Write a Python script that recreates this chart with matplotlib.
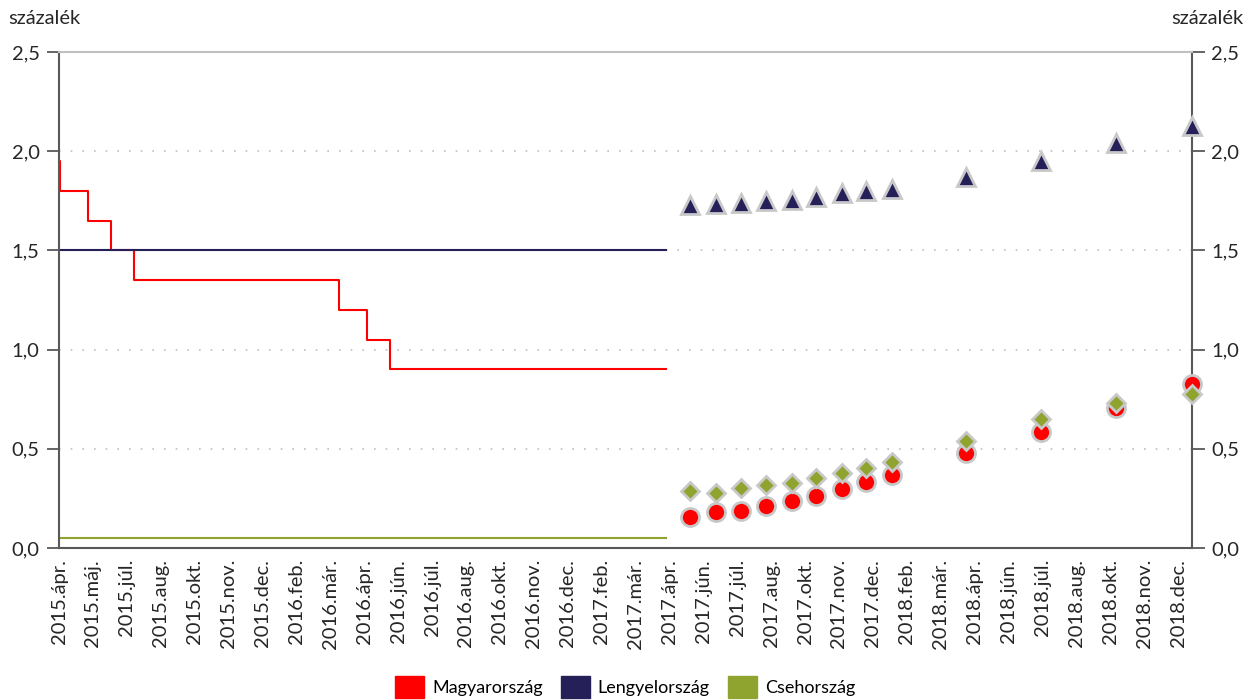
import numpy as np
import pandas as pd
import matplotlib
matplotlib.use('Agg')
import matplotlib.pyplot as plt
import matplotlib.dates as mdates
from matplotlib.patches import Rectangle

plt.rcParams['font.family'] = ['Lato', 'DejaVu Sans']

# havi címkék az x tengelyen
honapok = ['2015.ápr.', '2015.máj.', '2015.júl.', '2015.aug.', '2015.okt.', '2015.nov.',
           '2015.dec.', '2016.feb.', '2016.már.', '2016.ápr.', '2016.jún.', '2016.júl.',
           '2016.aug.', '2016.okt.', '2016.nov.', '2016.dec.', '2017.feb.', '2017.már.',
           '2017.ápr.', '2017.jún.', '2017.júl.', '2017.aug.', '2017.okt.', '2017.nov.',
           '2017.dec.', '2018.feb.', '2018.már.', '2018.ápr.', '2018.jún.', '2018.júl.',
           '2018.aug.', '2018.okt.', '2018.nov.', '2018.dec.']

# tényleges alapkamat (lépcsős)
hu_datum = ['2015-03-25', '2015-03-26', '2015-04-29', '2015-05-27', '2015-06-24',
            '2016-02-28', '2016-04-03', '2016-05-01', '2017-04-01']
hu_ertek = [1.95, 1.80, 1.65, 1.50, 1.35, 1.20, 1.05, 0.90, 0.90]
pl_datum = ['2015-03-25', '2017-04-01']
pl_ertek = [1.50, 1.50]
cz_datum = ['2015-03-25', '2017-04-01']
cz_ertek = [0.05, 0.05]

# várakozások
var_datum = ['2017-05-01', '2017-06-01', '2017-07-01', '2017-08-01', '2017-09-01',
             '2017-10-01', '2017-11-01', '2017-12-01', '2018-01-01', '2018-04-01',
             '2018-07-01', '2018-10-01', '2019-01-01']
hu_var = [0.155, 0.180, 0.188, 0.212, 0.238, 0.262, 0.297, 0.331, 0.368, 0.477, 0.586, 0.704, 0.827]
pl_var = [1.729, 1.735, 1.740, 1.747, 1.755, 1.767, 1.788, 1.800, 1.810, 1.870, 1.952, 2.040, 2.129]
cz_var = [0.286, 0.279, 0.301, 0.316, 0.329, 0.351, 0.380, 0.405, 0.433, 0.541, 0.650, 0.729, 0.776]

piros = '#ff0000'
kek = '#252158'
zold = '#8ea42e'
szegely = '#c8c8c8'
betu = 14.5

fig = plt.figure(figsize=(12.5, 7), dpi=100)
ax = fig.add_axes([59/1250, 1-548/700, (1192-59)/1250, (548-52)/700])

ax.step(pd.to_datetime(hu_datum), hu_ertek, where='post', color=piros, lw=1.5)
ax.plot(pd.to_datetime(pl_datum), pl_ertek, color=kek, lw=1.5)
ax.plot(pd.to_datetime(cz_datum), cz_ertek, color=zold, lw=1.5)

vd = pd.to_datetime(var_datum)
ax.plot(vd, pl_var, ls='none', marker='^', ms=13.5, color=kek, mec=szegely, mew=2, clip_on=False, zorder=4)
ax.plot(vd, hu_var, ls='none', marker='o', ms=13, color=piros, mec=szegely, mew=2, clip_on=False, zorder=4)
ax.plot(vd, cz_var, ls='none', marker='D', ms=9.5, color=zold, mec=szegely, mew=2, clip_on=False, zorder=5)

x0 = mdates.date2num(pd.Timestamp('2015-03-25'))
x1 = mdates.date2num(pd.Timestamp('2019-01-01'))
ax.set_xlim(x0, x1)
ax.set_ylim(0, 2.5)

tick_pos = np.linspace(x0, mdates.date2num(pd.Timestamp('2018-12-15')), len(honapok))
ax.set_xticks(tick_pos)
ax.set_xticklabels(honapok, rotation=90, fontsize=betu, color='#262626')
ax.tick_params(axis='x', length=0, pad=8)

yt = np.arange(0, 2.51, 0.5)
ax.set_yticks(yt)
ax.set_yticklabels([f'{v:.1f}'.replace('.', ',') for v in yt], fontsize=betu, color='#262626')
ax.tick_params(axis='y', left=True, right=True, labelleft=True, labelright=True,
               direction='out', length=9, width=1.3, color='#595959', pad=5)

for v in yt[1:-1]:
    ax.axhline(v, color='#bfbfbf', lw=1.2, ls=(0, (1, 6)), zorder=0)

for s in ['left', 'right', 'bottom']:
    ax.spines[s].set_color('#595959')
    ax.spines[s].set_linewidth(1.5)
ax.spines['top'].set_color('#c0c0c0')
ax.spines['top'].set_linewidth(1.5)

fig.text(8/1250, 1-18/700, 'százalék', fontsize=betu, va='center', ha='left', color='#262626')
fig.text(1244/1250, 1-18/700, 'százalék', fontsize=betu, va='center', ha='right', color='#262626')

kezelok = [Rectangle((0, 0), 1, 1, color=c) for c in [piros, kek, zold]]
fig.legend(kezelok, ['Magyarország', 'Lengyelország', 'Csehország'], loc='center',
           bbox_to_anchor=(0.5, 1-687/700), ncol=3, frameon=False, fontsize=13,
           handlelength=1.6, handleheight=1.5, handletextpad=0.45, columnspacing=1.0)

fig.savefig('out.png', dpi=100)
